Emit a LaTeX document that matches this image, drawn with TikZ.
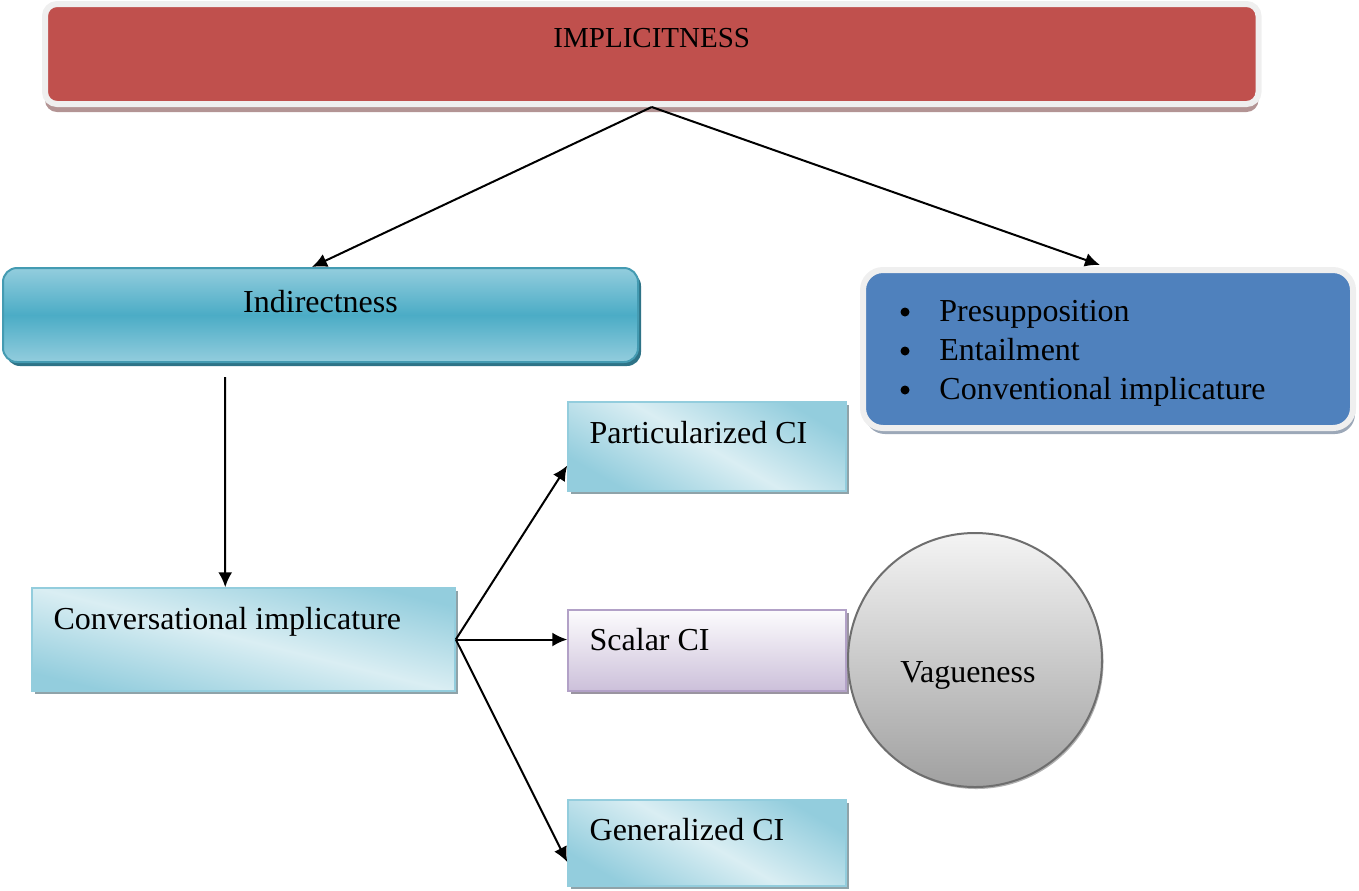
\documentclass[tikz,border=0pt]{standalone}
\usepackage{fontspec}
\setmainfont{Liberation Serif}
\usetikzlibrary{shadows,calc,arrows.meta}

\definecolor{implred}{HTML}{C0504D}
\definecolor{framegray}{HTML}{EFEFEF}
\definecolor{implshadow}{HTML}{B39494}
\definecolor{tealdark}{HTML}{4BACC6}
\definecolor{teallight}{HTML}{93CDDD}
\definecolor{tealpale}{HTML}{DAEEF3}
\definecolor{tealshadow}{HTML}{2E7387}
\definecolor{ciedge}{HTML}{93CDDD}
\definecolor{cishadow}{HTML}{8FA3A9}
\definecolor{presblue}{HTML}{4F81BD}
\definecolor{presshadow}{HTML}{9CA8B8}
\definecolor{lilac}{HTML}{CCC0DA}
\definecolor{lilacedge}{HTML}{B2A1C7}
\definecolor{lilacshadow}{HTML}{9A94A0}
\definecolor{vagtop}{HTML}{F4F4F4}
\definecolor{vagbottom}{HTML}{A0A0A0}
\definecolor{vagedge}{HTML}{6E6E6E}

\tikzset{
  txt/.style={inner sep=0pt, anchor=base west},
  ctxt/.style={inner sep=0pt, anchor=base},
  bulletdot/.style={circle, fill=black, inner sep=0pt, minimum size=4.5pt},
  framed/.style={rectangle, rounded corners=#1, line width=3pt, draw=framegray, inner sep=0pt},
  cibox/.style={rectangle, inner sep=0pt, draw=ciedge, line width=0.75pt,
    top color=teallight, bottom color=teallight, middle color=tealpale, shading angle=-14,
    drop shadow={shadow xshift=1.5pt, shadow yshift=-1.5pt, fill=cishadow, opacity=1},
    minimum width=139pt},
  link/.style={line width=1pt, -{Latex[length=7.5pt,width=7pt]}},
}

\begin{document}
\begin{tikzpicture}[x=0.5pt, y=-0.5pt, font=\fontsize{16}{19}\selectfont]
\useasboundingbox (0,0) rectangle (1359,890);

% top concept
\node[framed=6pt, fill=implred, minimum width=606.75pt, minimum height=50pt,
      drop shadow={shadow xshift=0pt, shadow yshift=-4pt, fill=implshadow, opacity=1}]
      (impl) at (651.75,54) {};
\node[ctxt, font=\fontsize{14.5}{17}\selectfont] (impltxt) at ($(impl.north)+(0,46)$) {IMPLICITNESS};

% left branch
\node[rectangle, rounded corners=7pt, draw=tealdark!90!black, line width=1pt,
      top color=teallight, bottom color=teallight, middle color=tealdark,
      minimum width=317.5pt, minimum height=47pt, inner sep=0pt,
      drop shadow={shadow xshift=1.5pt, shadow yshift=-2pt, fill=tealshadow, opacity=1}]
      (ind) at (320.5,315) {};
\node[ctxt] (indtxt) at ($(ind.north)+(0,45)$) {Indirectness};

% right branch
\node[framed=10pt, fill=presblue, minimum width=245pt, minimum height=79pt,
      drop shadow={shadow xshift=1pt, shadow yshift=-3pt, fill=presshadow, opacity=1}]
      (pre) at (1108,349) {};
\node[bulletdot] (b1) at (905,312) {};
\node[bulletdot] (b2) at (905,351) {};
\node[bulletdot] (b3) at (905,390) {};
\node[txt] (p1) at (939,321) {Presupposition};
\node[txt] (p2) at (939,360) {Entailment};
\node[txt] (p3) at (939,399) {Conventional implicature};

% conversational implicature and its kinds
\node[cibox, minimum width=211.5pt, minimum height=51.5pt, shading angle=-14] (conv) at (243.5,639.5) {};
\node[txt] (convtxt) at ($(conv.north west)+(22,42)$) {Conversational implicature};

\node[cibox, minimum height=44.5pt, shading angle=-30] (part) at (707,446.5) {};
\node[txt] (parttxt) at ($(part.north west)+(22,42)$) {Particularized CI};

\node[rectangle, inner sep=0pt, draw=lilacedge, line width=0.75pt,
      top color=white!95!lilac, bottom color=lilac,
      minimum width=139pt, minimum height=40.5pt,
      drop shadow={shadow xshift=1.5pt, shadow yshift=-1.5pt, fill=lilacshadow, opacity=1}]
      (scal) at (707,650.5) {};
\node[txt] (scaltxt) at ($(scal.north west)+(22,41)$) {Scalar CI};

\node[cibox, minimum height=43pt, shading angle=-30] (gen) at (707,843) {};
\node[txt] (gentxt) at ($(gen.north west)+(22,41)$) {Generalized CI};

\node[circle, inner sep=0pt, minimum size=127pt, draw=vagedge, line width=1pt,
      top color=vagtop, bottom color=vagbottom,
      drop shadow={shadow xshift=0.75pt, shadow yshift=-1pt, fill=black!30, opacity=1}]
      (vag) at (975,660) {};
\node[ctxt] (vagtxt) at ($(vag.center)+(-7,22)$) {Vagueness};

% connectors
\draw[link] (impl.south) -- ($(ind.north west)+(310,0)$);
\draw[link] (impl.south) -- ($(pre.north)+(-8,-2)$);
\draw[link] ($(ind.south west)+(223,14)$) -- ($(conv.north west)+(194,0)$);
\draw[link] (conv.east) -- ($(part.west)+(0,19)$);
\draw[link] (conv.east) -- (conv.east -| scal.west);
\draw[link] (conv.east) -- ($(gen.west)+(0,19)$);
\end{tikzpicture}
\end{document}
